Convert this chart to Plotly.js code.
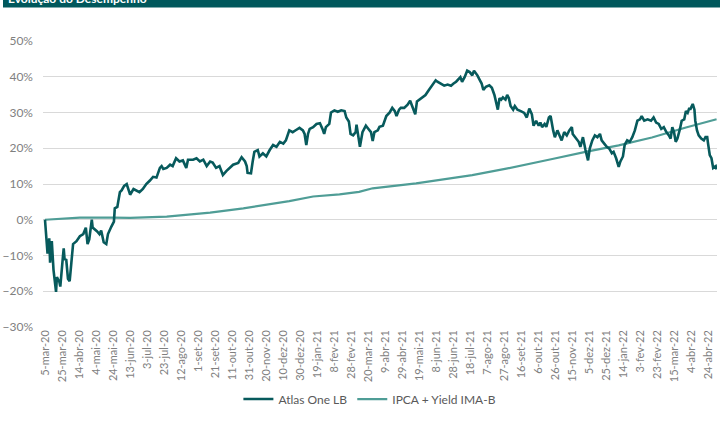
<!DOCTYPE html>
<html><head><meta charset="utf-8">
<script src="https://cdn.plot.ly/plotly-3.0.1.min.js"></script>
<style>html,body{margin:0;padding:0;background:#fff;}#chart{width:725px;height:421px;}</style>
</head><body><div id="chart"></div>
<script>
const atlasDates = [
"2020-03-05","2020-03-07","2020-03-08","2020-03-10","2020-03-11","2020-03-13","2020-03-15","2020-03-18","2020-03-19","2020-03-22",
"2020-03-23","2020-03-26","2020-03-27","2020-03-28","2020-03-30","2020-04-01","2020-04-03","2020-04-05","2020-04-07","2020-04-11",
"2020-04-15","2020-04-19","2020-04-22","2020-04-24","2020-04-26","2020-04-29","2020-04-30","2020-05-05","2020-05-08","2020-05-10",
"2020-05-13","2020-05-16","2020-05-18","2020-05-22","2020-05-25","2020-05-26","2020-05-29","2020-05-30","2020-06-01","2020-06-03",
"2020-06-06","2020-06-09","2020-06-11","2020-06-13","2020-06-17","2020-06-21","2020-06-24","2020-06-28","2020-07-02","2020-07-06",
"2020-07-10","2020-07-14","2020-07-18","2020-07-20","2020-07-22","2020-07-26","2020-07-30","2020-08-02","2020-08-06","2020-08-10",
"2020-08-14","2020-08-18","2020-08-20","2020-08-26","2020-08-30","2020-09-03","2020-09-07","2020-09-11","2020-09-15","2020-09-18",
"2020-09-22","2020-09-26","2020-09-30","2020-10-04","2020-10-08","2020-10-12","2020-10-18","2020-10-22","2020-10-26","2020-10-28",
"2020-10-29","2020-11-02","2020-11-04","2020-11-06","2020-11-10","2020-11-12","2020-11-16","2020-11-20","2020-11-24","2020-11-28",
"2020-12-02","2020-12-06","2020-12-10","2020-12-13","2020-12-17","2020-12-21","2020-12-25","2020-12-29","2021-01-02","2021-01-04",
"2021-01-06","2021-01-08","2021-01-10","2021-01-14","2021-01-18","2021-01-22","2021-01-25","2021-01-27","2021-01-29","2021-02-02",
"2021-02-04","2021-02-08","2021-02-12","2021-02-16","2021-02-20","2021-02-22","2021-02-25","2021-02-27","2021-03-02","2021-03-05",
"2021-03-06","2021-03-09","2021-03-10","2021-03-13","2021-03-15","2021-03-17","2021-03-20","2021-03-23","2021-03-25","2021-03-27",
"2021-03-31","2021-04-02","2021-04-06","2021-04-10","2021-04-14","2021-04-17","2021-04-20","2021-04-22","2021-04-25","2021-04-27",
"2021-05-01","2021-05-05","2021-05-08","2021-05-11","2021-05-14","2021-05-16","2021-05-19","2021-05-22","2021-05-26","2021-05-30",
"2021-06-03","2021-06-07","2021-06-09","2021-06-13","2021-06-17","2021-06-21","2021-06-25","2021-06-28","2021-07-01","2021-07-06",
"2021-07-08","2021-07-11","2021-07-14","2021-07-17","2021-07-20","2021-07-22","2021-07-26","2021-07-29","2021-07-31","2021-08-02",
"2021-08-05","2021-08-09","2021-08-12","2021-08-15","2021-08-17","2021-08-19","2021-08-21","2021-08-23","2021-08-25","2021-08-28",
"2021-08-30","2021-09-01","2021-09-03","2021-09-06","2021-09-08","2021-09-11","2021-09-15","2021-09-19","2021-09-22","2021-09-25",
"2021-09-28","2021-09-30","2021-10-03","2021-10-06","2021-10-08","2021-10-10","2021-10-13","2021-10-15","2021-10-18","2021-10-20",
"2021-10-23","2021-10-25","2021-10-28","2021-10-31","2021-11-02","2021-11-05","2021-11-08","2021-11-11","2021-11-14","2021-11-15",
"2021-11-19","2021-11-22","2021-11-24","2021-11-27","2021-11-30","2021-12-03","2021-12-05","2021-12-08","2021-12-11","2021-12-14",
"2021-12-17","2021-12-19","2021-12-22","2021-12-25","2021-12-28","2021-12-31","2022-01-02","2022-01-05","2022-01-08","2022-01-10",
"2022-01-13","2022-01-15","2022-01-18","2022-01-21","2022-01-24","2022-01-27","2022-01-30","2022-02-02","2022-02-04","2022-02-07",
"2022-02-11","2022-02-15","2022-02-18","2022-02-21","2022-02-24","2022-02-27","2022-03-02","2022-03-05","2022-03-08","2022-03-10",
"2022-03-12","2022-03-14","2022-03-16","2022-03-18","2022-03-21","2022-03-23","2022-03-26","2022-03-28","2022-03-30","2022-04-01",
"2022-04-02","2022-04-04","2022-04-05","2022-04-07","2022-04-08","2022-04-10","2022-04-12","2022-04-15","2022-04-18","2022-04-20",
"2022-04-22","2022-04-23","2022-04-25","2022-04-27","2022-04-28","2022-04-29","2022-05-02","2022-05-03"
];
const atlasOne = [
0,-5,-9.5,-5.2,-12,-6,-14,-20.2,-16,-17.5,
-18.7,-10.5,-8,-11,-11.2,-16.5,-17.2,-12,-6.8,-6,
-4.6,-4,-2.2,-6.8,-5.5,0,-2.2,-3.2,-4,-3,
-6.3,-6.8,-4,-1.9,-0.5,3.2,3.6,5,7.7,8.2,
9.5,10,8.6,7,8.6,8.2,7.7,8.6,10,10.9,
12,11.8,14.5,15,14.2,14.5,15.4,15,17.2,16.3,
16.6,14.5,16.8,16.8,17.2,16.3,16.8,15,16.3,16,
14.5,15,12.5,13.6,14.5,15.4,15.9,17.5,16.3,15,
13.1,13,16.3,19,19.5,17.7,18.6,17.7,19.5,20.9,
20.4,21.8,21.3,22.2,25,24.5,25.1,25.7,25,24,
20.9,24,25.4,25.9,26.8,27,25.4,24,25.9,26.8,
30,30.6,30.2,30.6,30.4,28.6,27.5,24,23.6,24.5,
26.6,21.3,20.4,24.5,25.4,26.3,25.4,24.5,22,24.5,
25,26,26.3,29,30,31.3,30.4,29,30.8,31.3,
31.3,32.2,33.3,31.3,29.5,33.1,33.6,34,34.9,36.3,
37.8,39,38.6,38.1,37.5,37.8,37.5,38.1,38.6,39.9,
38.6,39.9,41.7,41.3,40.4,41.7,40.4,39,38.1,36.3,
37.2,37.6,36.9,34.9,33.1,30.8,34,33.6,34.2,33.6,
34.9,34,31.8,30.8,31.8,30.8,30.4,29.9,28.6,31.1,
29.5,26.3,27.7,26.3,27.2,25.9,26.8,26,28.6,29,
25,23.1,25,23.1,22.2,24.5,23.6,25,25.9,24,
22.7,21.8,20.4,23.1,19.5,16.6,19.9,22.2,23.6,23.1,
24,22.2,21.3,20.4,19.9,18.6,19,17.2,14.8,16.3,
17.7,20.9,22.2,21.8,23.1,25,27.7,28.1,29,27.7,
28.1,27.7,28.6,27.2,26.8,25.4,25.9,24.5,23.6,22.7,
25.9,24.5,21.8,22.7,25.4,27.7,28.1,30.4,29.9,31.3,
30.8,32.2,32.4,30.8,27.7,25,23.6,22.7,22.2,23.1,
23.1,21.3,18.1,17.2,15.9,14.5,15,14.1
];
const ipcaDates = [
"2020-03-05","2020-04-15","2020-05-24","2020-06-13","2020-07-26","2020-08-10","2020-09-15","2020-10-24","2020-11-20","2020-12-17",
"2021-01-14","2021-02-06","2021-02-14","2021-03-09","2021-03-25","2021-05-15","2021-06-11","2021-07-20","2021-08-29","2021-09-13",
"2021-10-07","2021-10-22","2021-11-30","2022-01-08","2022-02-16","2022-03-28","2022-05-03"
];
const ipcaYield = [
0,0.6,0.6,0.5,0.9,1.2,2.0,3.2,4.1,5.2,
6.5,6.9,7.1,7.8,8.8,10.2,11.1,12.5,14.3,15,
16.2,17,19,20.8,23,25.8,28.1
];
const tickDates = [
"2020-03-05","2020-03-25","2020-04-14","2020-05-04","2020-05-24","2020-06-13","2020-07-03","2020-07-23","2020-08-12","2020-09-01",
"2020-09-21","2020-10-11","2020-10-31","2020-11-20","2020-12-10","2020-12-30","2021-01-19","2021-02-08","2021-02-28","2021-03-20",
"2021-04-09","2021-04-29","2021-05-19","2021-06-08","2021-06-28","2021-07-18","2021-08-07","2021-08-27","2021-09-16","2021-10-06",
"2021-10-26","2021-11-15","2021-12-05","2021-12-25","2022-01-14","2022-02-03","2022-02-23","2022-03-15","2022-04-04","2022-04-24"
];
const tickLabels = [
"5-mar-20","25-mar-20","14-abr-20","4-mai-20","24-mai-20","13-jun-20","3-jul-20","23-jul-20","12-ago-20","1-set-20",
"21-set-20","11-out-20","31-out-20","20-nov-20","10-dez-20","30-dez-20","19-jan-21","8-fev-21","28-fev-21","20-mar-21",
"9-abr-21","29-abr-21","19-mai-21","8-jun-21","28-jun-21","18-jul-21","7-ago-21","27-ago-21","16-set-21","6-out-21",
"26-out-21","15-nov-21","5-dez-21","25-dez-21","14-jan-22","3-fev-22","23-fev-22","15-mar-22","4-abr-22","24-abr-22"
];
const seriesNames = ["Atlas One LB","IPCA + Yield IMA-B"];
const headerText = "Evolução do Desempenho";

const W = 725, H = 421;
const M = {l: 43, r: 8, t: 41, b: 86};
const PW = W - M.l - M.r, PH = H - M.t - M.b;
const xRange = ["2020-03-02 16:00", "2022-05-03 12:00"];
const yRange = [-30, 50];

const traces = [
  {x: ipcaDates, y: ipcaYield, name: seriesNames[1], type: "scatter", mode: "lines",
   line: {color: "#4F9D96", width: 2.2}, hoverinfo: "skip"},
  {x: atlasDates, y: atlasOne, name: seriesNames[0], type: "scatter", mode: "lines",
   line: {color: "#075A5C", width: 2.6}, hoverinfo: "skip"}
];

const grey = "#7F7F7F";
const layout = {
  width: W, height: H,
  margin: M,
  paper_bgcolor: "#fff", plot_bgcolor: "#fff",
  font: {family: "Lato, 'Open Sans', sans-serif", color: grey},
  showlegend: true,
  legend: {orientation: "h", x: 0.485, xanchor: "center", y: -0.252, yanchor: "middle",
           font: {size: 12, color: "#595959"}, traceorder: "reversed", itemwidth: 30},
  xaxis: {type: "date", range: xRange, tickvals: tickDates, ticktext: tickLabels,
          tickangle: -90, tickfont: {size: 11, color: grey}, showgrid: false,
          zeroline: false, showline: false, ticks: "", fixedrange: true},
  xaxis2: {type: "date", range: xRange, overlaying: "x", anchor: "free",
           position: (0 - yRange[0]) / (yRange[1] - yRange[0]),
           tickvals: tickDates, showticklabels: false, showgrid: false, zeroline: false,
           showline: true, linecolor: "#D9D9D9", linewidth: 1,
           ticks: "outside", ticklen: 4, tickcolor: "#D9D9D9", tickwidth: 1},
  yaxis: {range: yRange, dtick: 10, tick0: 0, ticksuffix: "%", showgrid: true,
          gridcolor: "#D9D9D9", gridwidth: 1, zeroline: false, showline: false,
          tickfont: {size: 12, color: grey}, ticklabelstandoff: 9, fixedrange: true},
  shapes: [{type: "rect", xref: "paper", yref: "paper",
            x0: (3 - M.l) / PW, x1: (720 - M.l) / PW,
            y0: 1 + (M.t - 6.5) / PH, y1: 1 + (M.t + 2) / PH,
            fillcolor: "#00585C", line: {width: 0}, layer: "above"}],
  annotations: [{text: "<b>" + headerText + "</b>", xref: "paper", yref: "paper",
                 x: (6 - M.l) / PW, xanchor: "left",
                 y: 1 + (M.t + 2.5) / PH, yanchor: "middle", showarrow: false,
                 font: {size: 12, color: "#FFFFFF", family: "Lato, sans-serif"}}]
};

Plotly.newPlot("chart", traces, layout, {staticPlot: true, displayModeBar: false});
</script>
</body></html>
